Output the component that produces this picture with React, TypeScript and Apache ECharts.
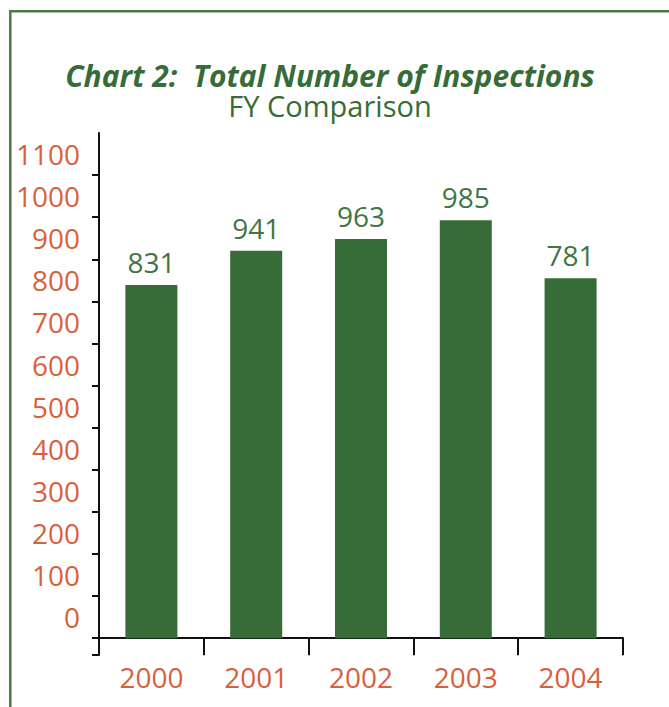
import React, { useEffect, useRef } from "react";
import * as echarts from "echarts";

// Fiscal years (categories)
const years = ["2000", "2001", "2002", "2003", "2004"];
// Values printed above the bars
const inspections = [831, 941, 963, 985, 781];
// Bar heights as drawn in the reference (on the axis scale)
const barHeights = [839, 920, 948, 993, 855];
// Y-axis tick labels
const yTickLabels = [0, 100, 200, 300, 400, 500, 600, 700, 800, 900, 1000, 1100];
// Y-axis tick marks (including the one below the baseline)
const yTickMarks = [-40, 0, 100, 200, 300, 400, 500, 600, 700, 800, 900, 1000, 1100];

const titleText = "Chart 2:  Total Number of Inspections";
const subtitleText = "FY Comparison";

const GREEN = "#376c38";
const LABEL_GREEN = "#3f7642";
const ORANGE = "#d9603c";
const FONT = "'Open Sans', 'DejaVu Sans', sans-serif";

export default function App() {
  const ref = useRef<HTMLDivElement>(null);

  useEffect(() => {
    if (!ref.current) return;
    const chart = echarts.init(ref.current, undefined, { renderer: "svg" });
    chart.setOption({
      animation: false,
      backgroundColor: "#ffffff",
      title: [
        {
          text: titleText,
          left: 330,
          top: 62,
          padding: 0,
          textAlign: "center",
          textStyle: {
            fontFamily: FONT,
            fontSize: 30,
            fontWeight: "bold",
            fontStyle: "italic",
            color: GREEN,
            lineHeight: 26,
          },
        },
        {
          text: subtitleText,
          left: 330,
          top: 92,
          padding: 0,
          textAlign: "center",
          textStyle: {
            fontFamily: FONT,
            fontSize: 29,
            fontWeight: "normal",
            color: GREEN,
            lineHeight: 26,
          },
        },
      ],
      graphic: [
        {
          type: "rect",
          silent: true,
          shape: { x: 10.3, y: 11.3, width: 720, height: 760 },
          style: { fill: "none", stroke: "#4a7b47", lineWidth: 2.5 },
        },
      ],
      grid: { left: 99, right: 46, top: 133, bottom: 52, containLabel: false },
      xAxis: {
        type: "category",
        data: years,
        boundaryGap: true,
        axisLine: { show: true, onZero: true, lineStyle: { color: "#111", width: 2 } },
        axisTick: { show: true, length: 17, inside: false, lineStyle: { color: "#111", width: 2 } },
        axisLabel: {
          fontFamily: FONT,
          fontSize: 28,
          color: ORANGE,
          margin: 8,
          lineHeight: 28,
        },
        splitLine: { show: false },
      },
      yAxis: {
        type: "value",
        min: -40,
        max: 1200,
        axisLine: { show: true, onZero: false, lineStyle: { color: "#111", width: 2 } },
        axisTick: {
          show: true,
          length: 7,
          customValues: yTickMarks,
          lineStyle: { color: "#111", width: 2 },
        },
        axisLabel: {
          customValues: yTickLabels,
          formatter: (v: number) => String(v),
          fontFamily: FONT,
          fontSize: 28,
          color: ORANGE,
          margin: 19,
          verticalAlign: "bottom",
          lineHeight: 42,
        },
        splitLine: { show: false },
      },
      series: [
        {
          type: "bar",
          data: barHeights,
          barWidth: 52,
          itemStyle: { color: GREEN },
          label: {
            show: true,
            position: "top",
            distance: 9,
            fontFamily: FONT,
            fontSize: 28,
            color: LABEL_GREEN,
            formatter: (p: any) => String(inspections[p.dataIndex]),
          },
        },
      ],
    });
    return () => chart.dispose();
  }, []);

  return (
    <div
      ref={ref}
      style={{ position: "fixed", left: 0, top: 0, width: 669, height: 707 }}
    />
  );
}
